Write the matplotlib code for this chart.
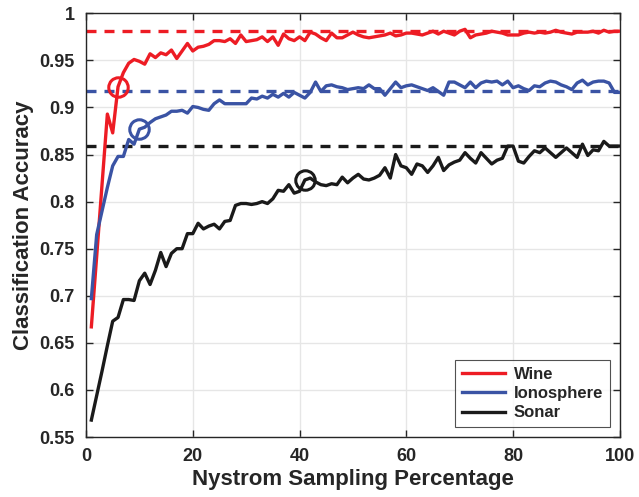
import numpy as np
import matplotlib
matplotlib.use('Agg')
import matplotlib.pyplot as plt
from matplotlib.ticker import FuncFormatter

# Nystrom sampling percentage (1..100)
pct = np.arange(1, 101)

wine = [0.667, 0.742, 0.818, 0.893, 0.873, 0.922, 0.937, 0.947, 0.951, 0.949,
        0.946, 0.957, 0.953, 0.958, 0.956, 0.961, 0.952, 0.960, 0.968, 0.960,
        0.964, 0.965, 0.967, 0.971, 0.971, 0.970, 0.973, 0.968, 0.977, 0.970,
        0.971, 0.972, 0.975, 0.970, 0.975, 0.966, 0.978, 0.973, 0.971, 0.975,
        0.971, 0.980, 0.978, 0.974, 0.971, 0.979, 0.974, 0.974, 0.977, 0.980,
        0.977, 0.975, 0.974, 0.975, 0.976, 0.977, 0.979, 0.976, 0.977, 0.979,
        0.979, 0.978, 0.977, 0.979, 0.981, 0.978, 0.981, 0.979, 0.977, 0.981,
        0.983, 0.974, 0.977, 0.978, 0.979, 0.981, 0.980, 0.979, 0.977, 0.977,
        0.977, 0.979, 0.980, 0.979, 0.980, 0.979, 0.980, 0.982, 0.980, 0.979,
        0.978, 0.980, 0.980, 0.980, 0.981, 0.979, 0.982, 0.980, 0.981, 0.981]

ionosphere = [0.697, 0.765, 0.790, 0.815, 0.838, 0.848, 0.848, 0.866, 0.861, 0.877,
              0.879, 0.884, 0.888, 0.890, 0.892, 0.896, 0.896, 0.897, 0.894, 0.901,
              0.900, 0.898, 0.897, 0.904, 0.908, 0.904, 0.904, 0.904, 0.904, 0.904,
              0.910, 0.909, 0.912, 0.910, 0.914, 0.911, 0.915, 0.911, 0.916, 0.913,
              0.910, 0.916, 0.927, 0.917, 0.923, 0.924, 0.922, 0.921, 0.919, 0.920,
              0.921, 0.920, 0.924, 0.920, 0.920, 0.913, 0.920, 0.927, 0.921, 0.923,
              0.924, 0.922, 0.920, 0.918, 0.921, 0.917, 0.913, 0.927, 0.927, 0.924,
              0.921, 0.927, 0.921, 0.926, 0.928, 0.927, 0.928, 0.924, 0.928, 0.921,
              0.923, 0.920, 0.918, 0.923, 0.922, 0.926, 0.928, 0.927, 0.924, 0.922,
              0.919, 0.926, 0.929, 0.924, 0.927, 0.928, 0.928, 0.926, 0.916, 0.916]

sonar = [0.568, 0.594, 0.620, 0.647, 0.673, 0.677, 0.696, 0.696, 0.695, 0.716,
         0.724, 0.712, 0.727, 0.746, 0.731, 0.745, 0.750, 0.750, 0.766, 0.766,
         0.777, 0.771, 0.774, 0.776, 0.771, 0.779, 0.780, 0.796, 0.798, 0.798,
         0.797, 0.798, 0.800, 0.798, 0.803, 0.812, 0.811, 0.818, 0.809, 0.811,
         0.823, 0.825, 0.821, 0.818, 0.817, 0.819, 0.818, 0.826, 0.820, 0.825,
         0.829, 0.824, 0.823, 0.825, 0.828, 0.836, 0.825, 0.850, 0.838, 0.836,
         0.829, 0.840, 0.838, 0.831, 0.838, 0.847, 0.833, 0.839, 0.842, 0.844,
         0.852, 0.846, 0.841, 0.852, 0.846, 0.840, 0.844, 0.846, 0.859, 0.859,
         0.843, 0.841, 0.848, 0.854, 0.852, 0.857, 0.852, 0.847, 0.852, 0.857,
         0.852, 0.847, 0.861, 0.849, 0.855, 0.854, 0.864, 0.859, 0.859, 0.859]

# full-kernel accuracy (dashed reference lines)
full_acc = {'Wine': 0.981, 'Ionosphere': 0.917, 'Sonar': 0.859}
# highlighted sampling points
marks = {'Wine': 6, 'Ionosphere': 10, 'Sonar': 41}

colors = {'Wine': '#ED1C24', 'Ionosphere': '#3A53A4', 'Sonar': '#1A1A1A'}
series = {'Wine': wine, 'Ionosphere': ionosphere, 'Sonar': sonar}

plt.rcParams['font.family'] = ['Liberation Sans', 'DejaVu Sans']
plt.rcParams['font.weight'] = 'bold'

fig = plt.figure(figsize=(6.39, 4.97), dpi=100)
ax = fig.add_axes([0.1346, 0.1207, 0.8354, 0.8525])

for name, vals in series.items():
    c = colors[name]
    ax.plot(pct, vals, color=c, lw=2.4, label=name, zorder=3)
    ax.axhline(full_acc[name], color=c, lw=2.4, ls=(0, (3.0, 2.4)), zorder=2)
    i = marks[name] - 1
    ax.plot(pct[i], vals[i], 'o', ms=14, mfc='none', mec=c, mew=2.2, zorder=4)

ax.set_xlim(0, 100)
ax.set_ylim(0.55, 1.0)
ax.set_xticks(np.arange(0, 101, 20))
ax.set_yticks(np.arange(0.55, 1.0001, 0.05))
ax.yaxis.set_major_formatter(FuncFormatter(lambda v, p: f'{v:.2f}'.rstrip('0').rstrip('.')))
ax.grid(True, color='#E6E6E6', lw=1.0, zorder=0)
ax.set_axisbelow(True)
ax.tick_params(direction='in', top=True, right=True, length=5, width=1,
               labelsize=13, colors='#262626', pad=8)
for s in ax.spines.values():
    s.set_color('#262626')
    s.set_linewidth(1.0)

ax.set_xlabel('Nystrom Sampling Percentage', fontsize=16, fontweight='bold',
              color='#262626', labelpad=3)
ax.set_ylabel('Classification Accuracy', fontsize=16, fontweight='bold',
              color='#262626', labelpad=4)

leg = ax.legend(loc='lower right', fontsize=12, frameon=True, fancybox=False,
                edgecolor='#262626', handlelength=2.6, borderaxespad=0.6,
                labelspacing=0.25, handletextpad=0.5)
leg.get_frame().set_linewidth(0.8)
for t in leg.get_texts():
    t.set_fontweight('bold')
    t.set_color('#262626')

fig.savefig('out.png', dpi=100)
